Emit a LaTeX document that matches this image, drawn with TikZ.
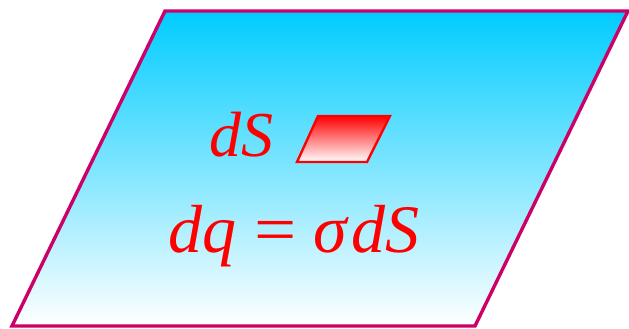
\documentclass[tikz,border=0pt]{standalone}
\usepackage{fontspec}
\setmainfont{Liberation Serif}
\begin{document}
\begin{tikzpicture}[x=1pt,y=1pt,
  eq/.style={text=red,font=\fontsize{64}{70}\selectfont\itshape,inner sep=0pt,anchor=base}]
\definecolor{skyc}{RGB}{0,204,255}
\definecolor{rim}{RGB}{204,0,102}
\useasboundingbox (0,0) rectangle (629,329);
\shade[top color=skyc,bottom color=white] (12,3) -- (475,3) -- (628,318) -- (165,318) -- cycle;
\draw[rim,line width=3.4pt,line join=miter] (12,3) -- (475,3) -- (628,318) -- (165,318) -- cycle;
\shade[top color=red,bottom color=white] (297,167) -- (367,167) -- (390,213) -- (318,213) -- cycle;
\draw[red,line width=2.4pt] (297,167) -- (367,167) -- (390,213) -- (318,213) -- cycle;
\node[eq] (ds) at (241,172) {dS};
\node[eq,font=\fontsize{68}{74}\selectfont\itshape] (dq) at (294,76) {dq\hspace{0.27em}\upshape\scalebox{1.1}[1]{=}\hspace{0.25em}\itshape σ\kern0.06em dS};
\end{tikzpicture}
\end{document}
